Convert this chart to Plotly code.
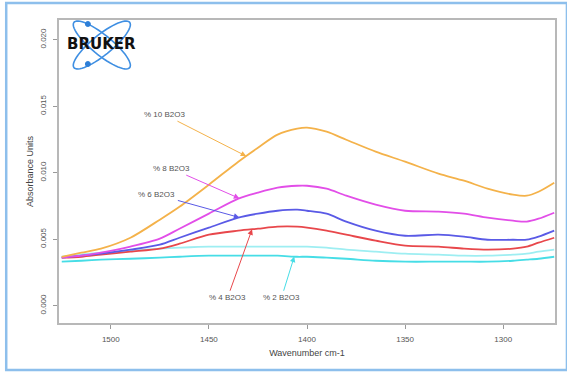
import numpy as np
import plotly.graph_objects as go

# Wavenumber grid (cm-1) and absorbance of each borate glass spectrum
wavenumber = [1525, 1515, 1505, 1490, 1475, 1465, 1450, 1435, 1425, 1415, 1405, 1400,
              1390, 1380, 1365, 1350, 1333, 1320, 1308, 1295, 1288, 1282, 1274]

b2o3_10 = [0.00368, 0.00399, 0.00429, 0.00511, 0.00647, 0.00744, 0.00910, 0.01083, 0.01188,
           0.01286, 0.01331, 0.01339, 0.01308, 0.01248, 0.01158, 0.01083, 0.00993, 0.00940,
           0.00880, 0.00835, 0.00827, 0.00857, 0.00925]
b2o3_8 = [0.00361, 0.00376, 0.00399, 0.00444, 0.00504, 0.00579, 0.00692, 0.00805, 0.00850,
          0.00887, 0.00902, 0.00902, 0.00880, 0.00827, 0.00760, 0.00714, 0.00707, 0.00692,
          0.00662, 0.00639, 0.00632, 0.00654, 0.00699]
b2o3_6 = [0.00361, 0.00376, 0.00391, 0.00421, 0.00459, 0.00511, 0.00587, 0.00662, 0.00692,
          0.00714, 0.00722, 0.00714, 0.00692, 0.00632, 0.00564, 0.00526, 0.00534, 0.00519,
          0.00496, 0.00496, 0.00496, 0.00519, 0.00564]
b2o3_4 = [0.00361, 0.00368, 0.00384, 0.00406, 0.00429, 0.00466, 0.00534, 0.00564, 0.00579,
          0.00594, 0.00594, 0.00587, 0.00564, 0.00534, 0.00489, 0.00451, 0.00444, 0.00429,
          0.00421, 0.00429, 0.00444, 0.00474, 0.00511]
b2o3_base = [0.00368, 0.00384, 0.00399, 0.00414, 0.00429, 0.00436, 0.00444, 0.00444, 0.00444,
             0.00444, 0.00444, 0.00444, 0.00436, 0.00421, 0.00406, 0.00391, 0.00384, 0.00376,
             0.00376, 0.00384, 0.00391, 0.00406, 0.00421]
b2o3_2 = [0.00331, 0.00338, 0.00346, 0.00353, 0.00361, 0.00368, 0.00376, 0.00376, 0.00376,
          0.00376, 0.00368, 0.00368, 0.00361, 0.00353, 0.00338, 0.00331, 0.00331, 0.00331,
          0.00331, 0.00338, 0.00346, 0.00353, 0.00368]

x_ticks = [1500, 1450, 1400, 1350, 1300]
y_ticks = [0.000, 0.005, 0.010, 0.015, 0.020]

series = [
    ("baseline", b2o3_base, "#9eeef2"),
    ("% 2 B2O3", b2o3_2, "#46dde6"),
    ("% 4 B2O3", b2o3_4, "#e8474b"),
    ("% 6 B2O3", b2o3_6, "#5a5ae6"),
    ("% 8 B2O3", b2o3_8, "#e24ee8"),
    ("% 10 B2O3", b2o3_10, "#f4b24a"),
]

# label text, series, wavenumber the arrow points at, text anchor (wavenumber, absorbance)
callouts = [
    ("% 10 B2O3", b2o3_10, 1431, (1472.5, 0.01436), "#f4b24a"),
    ("% 8 B2O3", b2o3_8, 1434.5, (1469.0, 0.01030), "#e24ee8"),
    ("% 6 B2O3", b2o3_6, 1434.5, (1476.5, 0.00835), "#5a5ae6"),
    ("% 4 B2O3", b2o3_4, 1428, (1440.5, 0.00060), "#e8474b"),
    ("% 2 B2O3", b2o3_2, 1406.5, (1413.0, 0.00060), "#46dde6"),
]

fig = go.Figure()
for name, vals, color in series:
    fig.add_trace(go.Scatter(x=wavenumber, y=vals, mode="lines", name=name,
                             line=dict(color=color, width=1.8, shape="spline", smoothing=0.8),
                             showlegend=False, hoverinfo="skip"))

wn_asc = wavenumber[::-1]
for text, vals, wn, (tx, ty), color in callouts:
    yv = float(np.interp(wn, wn_asc, vals[::-1]))
    fig.add_annotation(x=wn, y=yv, ax=tx, ay=ty, axref="x", ayref="y", xref="x", yref="y",
                       text=text, showarrow=True, arrowhead=2, arrowsize=1.1, arrowwidth=1,
                       arrowcolor=color, standoff=0, startstandoff=1,
                       font=dict(family="Liberation Sans, Arial", size=8, color="#555555"))

# pixel geometry of the plotting region
W, H = 567, 376
L, R, T, B = 59, 10, 20, 53
pw, ph = W - L - R, H - T - B


def to_paper(px, py):
    return (px - L) / pw, (H - B - py) / ph


# outer light-blue frame
fx0, fy0 = to_paper(6, 370)
fx1, fy1 = to_paper(569, 3)
fig.add_shape(type="rect", xref="paper", yref="paper", x0=fx0, y0=fy0, x1=fx1, y1=fy1,
              line=dict(color="#8dbfec", width=2.5))

# BRUKER logo: two crossed orbits with electrons
cx, cy, a, b = 102, 45, 36, 10
t = np.linspace(0, 2 * np.pi, 60)
for ang in (39, -39):
    th = np.deg2rad(ang)
    xs = cx + a * np.cos(t) * np.cos(th) - b * np.sin(t) * np.sin(th)
    ys = cy + a * np.cos(t) * np.sin(th) + b * np.sin(t) * np.cos(th)
    pts = [to_paper(x, y) for x, y in zip(xs, ys)]
    path = "M " + " L ".join(f"{p[0]:.4f},{p[1]:.4f}" for p in pts) + " Z"
    fig.add_shape(type="path", path=path, xref="paper", yref="paper",
                  line=dict(color="#3f8fe2", width=1.6))
for ex, ey in ((88, 24), (88, 64)):
    x0, y0 = to_paper(ex - 2.5, ey + 2.5)
    x1, y1 = to_paper(ex + 2.5, ey - 2.5)
    fig.add_shape(type="circle", xref="paper", yref="paper", x0=x0, y0=y0, x1=x1, y1=y1,
                  fillcolor="#2d7fd8", line=dict(color="#2d7fd8", width=1))
lx, ly = to_paper(102, 44)
fig.add_annotation(x=lx, y=ly, xref="paper", yref="paper", text="<b>BRUKER</b>",
                   xanchor="center", yanchor="middle", showarrow=False,
                   font=dict(family="DejaVu Sans", size=15, color="#111111"))

axis_font = dict(family="Liberation Sans, Arial", size=8, color="#555555")
fig.update_layout(
    width=W, height=H,
    margin=dict(l=L, r=R, t=T, b=B),
    paper_bgcolor="white", plot_bgcolor="white",
    xaxis=dict(range=[1526.4, 1273.6], tickvals=x_ticks, ticktext=[str(v) for v in x_ticks],
               ticks="outside", ticklen=4, tickcolor="#999999", tickfont=axis_font,
               showline=True, linecolor="#b8b8b8", linewidth=1.5, mirror=True,
               showgrid=False, zeroline=False, ticklabelstandoff=4,
               title=dict(text="Wavenumber cm-1", font=dict(family="Liberation Sans, Arial",
                                                            size=9, color="#444444"), standoff=6)),
    yaxis=dict(range=[-0.0013, 0.02148], tickvals=y_ticks,
               ticktext=[f"{v:.3f}" for v in y_ticks], tickangle=-90,
               ticks="outside", ticklen=4, tickcolor="#999999", tickfont=axis_font,
               showline=True, linecolor="#b8b8b8", linewidth=1.5, mirror=True,
               showgrid=False, zeroline=False, ticklabelstandoff=4,
               title=dict(text="Absorbance Units", font=dict(family="Liberation Sans, Arial",
                                                             size=9, color="#444444"), standoff=4)),
)

fig.write_html("out.html")
